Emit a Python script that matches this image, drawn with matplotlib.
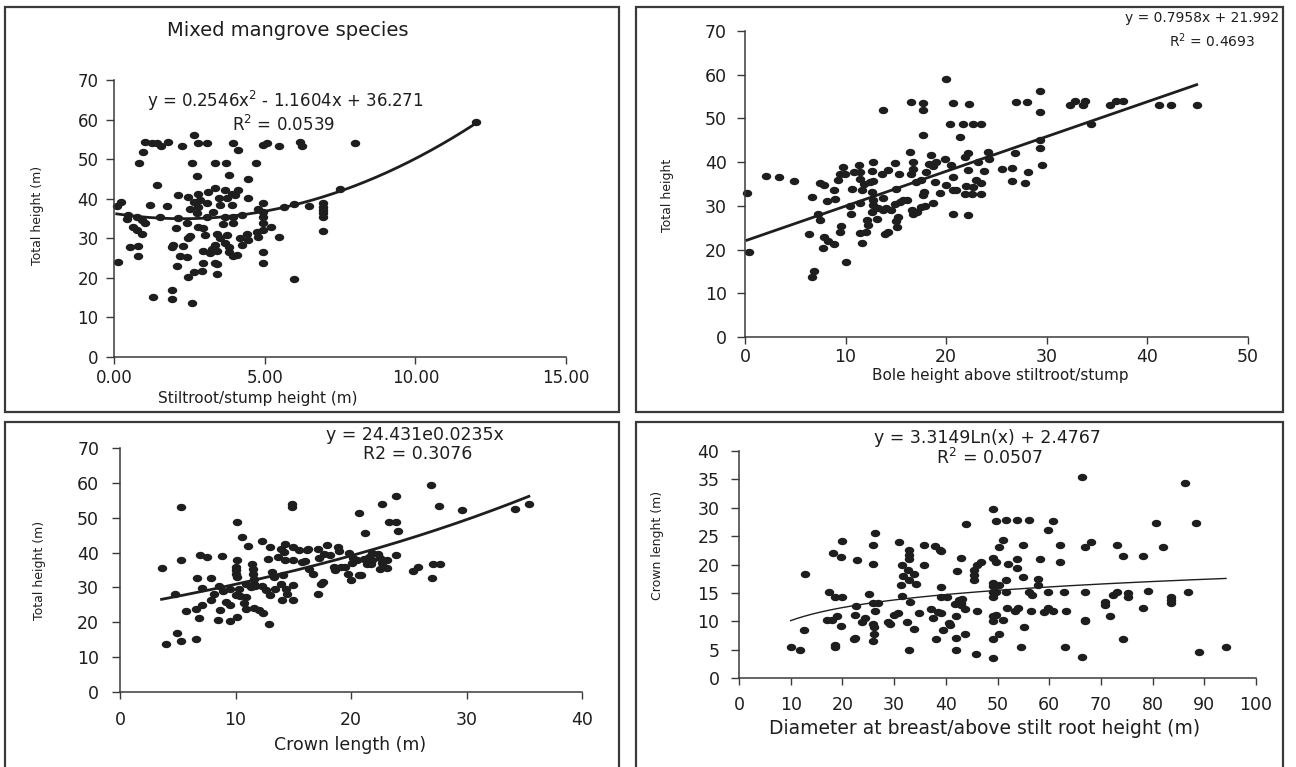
import numpy as np
import matplotlib
matplotlib.use("Agg")
import matplotlib.pyplot as plt
from matplotlib.path import Path
from matplotlib.patches import Rectangle
from matplotlib.transforms import Affine2D
from matplotlib.ticker import FormatStrFormatter

W, H = 1296, 767
plt.rcParams['font.family'] = ['DejaVu Sans']

# --- stiltroot/stump height vs total height (m) ---
stump_h = [1.03, 1.25, 1.42, 1.55, 1.80, 2.25, 2.64, 2.80, 3.08, 3.96, 4.13, 4.96, 5.07, 5.46,
           6.16, 6.23, 0.97, 0.84, 2.58, 3.36, 3.72, 4.72, 2.77, 3.83, 4.46, 1.42, 8.0, 12.0, 7.5,
           2.14, 2.47, 2.80, 3.13, 3.35, 3.69, 3.91, 4.13, 4.02, 4.46, 3.47, 3.74, 2.86, 3.08,
           2.64, 2.52, 2.80, 3.52, 3.91, 1.20, 1.77, 0.09, 0.22, 4.96, 4.79, 4.96, 5.96, 5.63,
           6.46, 6.95, 6.95, 6.95, 6.95, 6.95, 6.95,
           0.48, 0.42, 0.75, 0.92, 1.03, 0.64, 0.75, 0.92, 1.53, 2.14, 2.41, 2.74, 3.08, 3.30,
           3.69, 3.96, 4.24, 3.63, 3.96, 2.80, 2.97, 2.06, 4.96, 4.96, 4.96, 5.21, 4.41, 4.74,
           4.79, 5.46, 3.41, 3.74, 3.02, 2.52, 2.47, 3.52, 3.69, 4.19, 4.46, 4.24, 1.97, 2.30,
           1.92, 0.53, 0.81, 3.36, 3.24, 3.80, 2.97, 3.19, 3.41, 3.80, 3.96, 4.08, 4.96, 0.81,
           2.19, 2.41, 2.97, 3.36, 3.41, 2.08, 4.96, 0.14, 2.64, 2.91, 3.41, 2.47, 5.96, 1.92,
           1.28, 1.92, 2.58]
stump_total = [54.4, 54.1, 54.0, 53.3, 54.4, 53.3, 56.2, 54.1, 54.0, 54.1, 52.3, 53.7, 54.1, 53.3,
               54.4, 53.3, 51.9, 48.9, 48.9, 48.9, 48.9, 48.9, 45.8, 46.1, 44.9, 43.4, 54.0, 59.4, 42.4,
               40.9, 40.5, 41.3, 41.8, 42.6, 42.2, 41.3, 42.2, 40.9, 40.1, 40.1, 40.1, 39.6, 38.8,
               39.2, 37.5, 37.9, 38.4, 38.4, 38.4, 38.1, 38.1, 39.2, 38.8, 37.3, 36.7, 38.6, 37.8,
               38.1, 38.8, 38.0, 37.1, 36.3, 35.4, 31.9,
               35.9, 34.8, 35.4, 34.6, 33.8, 32.9, 32.1, 31.1, 35.4, 35.0, 33.8, 36.3, 35.4, 36.7,
               35.4, 35.4, 35.9, 33.6, 33.8, 32.9, 32.5, 32.5, 35.4, 33.9, 32.2, 32.9, 31.2, 31.6,
               30.4, 30.2, 31.2, 30.8, 30.8, 30.6, 30.0, 30.0, 28.9, 30.0, 29.5, 28.3, 28.3, 28.0,
               27.7, 27.9, 28.1, 28.3, 27.4, 27.9, 26.9, 26.3, 26.9, 26.6, 25.5, 25.8, 26.6, 25.5,
               25.5, 25.2, 23.8, 23.8, 23.5, 23.1, 23.8, 24.0, 21.4, 21.7, 21.1, 20.1, 19.6, 16.9,
               15.1, 14.6, 13.7]

# --- bole height above stiltroot/stump vs total height ---
bole_h = [0.2, 0.4, 2.1, 3.4, 4.9, 6.4, 6.7, 6.9, 6.7, 7.5, 7.9, 7.3, 7.5, 7.9, 7.8, 8.3, 8.8,
          8.2, 8.8, 8.9, 9.2, 9.4, 9.7, 9.9, 9.4, 9.5, 10.0, 10.4, 10.5, 10.6, 10.8, 11.3, 11.4,
          11.4, 11.6, 11.4, 11.4, 11.6, 12.0, 12.1, 12.2, 11.8, 12.4, 12.7, 12.6, 12.7, 12.7,
          12.6, 12.6, 12.7, 13.1, 13.2, 13.6, 13.7, 13.7, 13.7, 14.0, 13.9, 14.2, 14.2, 14.5,
          14.9, 14.9, 15.0, 15.0, 15.1, 15.2, 15.3, 15.4, 15.7, 16.1, 16.4, 16.5, 16.5, 16.7,
          16.7, 16.6, 16.7, 17.1, 17.0, 17.7, 17.7, 17.7, 17.5, 17.7, 17.8, 17.5, 17.9, 18.0,
          18.3, 18.5, 18.7, 18.7, 18.9, 19.0, 19.4, 20.0, 19.9, 20.0, 20.4, 20.7, 20.5, 20.7,
          20.7, 21.0, 20.7, 21.4, 21.7, 21.9, 21.9, 22.2, 22.3, 22.2, 22.2,
          22.7, 23.5, 23.2, 24.2, 24.3, 23.8, 23.0, 23.5, 22.0, 22.7, 22.6, 23.5, 25.5, 26.5,
          26.8, 26.5, 27.8, 28.1, 26.9, 28.0, 29.3, 29.3, 29.3, 29.3, 29.5, 32.3, 32.8, 33.6,
          33.8, 34.4, 36.3, 36.9, 37.6, 41.2, 42.3, 44.9]
bole_total = [33.0, 19.5, 36.8, 36.5, 35.6, 23.5, 32.0, 15.1, 13.7, 35.2, 34.7, 28.1, 26.7, 22.9,
              20.4, 22.0, 21.2, 31.0, 33.6, 31.5, 35.9, 37.4, 38.8, 37.4, 24.0, 25.3, 17.2, 29.9,
              28.2, 33.9, 37.8, 39.3, 37.8, 36.2, 33.6, 30.7, 23.8, 21.5, 24.0, 26.7, 25.6, 35.1,
              35.5, 35.7, 38.0, 40.0, 31.3, 33.2, 28.6, 30.1, 26.9, 29.6, 37.4, 52.0, 31.7, 29.0,
              29.4, 23.6, 24.0, 38.1, 29.1, 39.7, 30.4, 33.9, 26.5, 25.2, 27.5, 37.4, 30.9, 31.3,
              31.4, 42.3, 53.8, 37.4, 40.0, 38.5, 29.1, 28.1, 28.6, 35.5, 53.5, 51.9, 46.1, 35.9,
              32.4, 33.2, 29.7, 29.9, 37.8, 39.5, 41.6, 39.1, 30.7, 35.5, 40.0, 33.0, 59.1, 40.8,
              34.7, 48.8, 53.5, 39.3, 36.6, 33.7, 33.7, 28.2, 45.8, 48.8, 41.2, 32.8, 42.0, 53.4,
              38.3, 27.8,
              48.7, 48.7, 40.0, 42.3, 40.8, 38.0, 35.9, 35.2, 34.5, 34.3, 32.6, 32.6, 38.5, 38.7,
              42.0, 35.6, 35.2, 37.8, 53.8, 53.8, 56.3, 51.4, 45.0, 43.2, 39.3, 53.0, 54.0, 53.0,
              54.0, 48.7, 53.0, 54.0, 54.0, 53.0, 53.0, 53.0]

# --- crown length vs total height (m) ---
crown_len = [3.6, 4.0, 4.8, 4.9, 5.3, 5.3, 5.3, 5.7, 6.6, 6.6, 6.7, 6.8, 6.9, 7.1, 7.5, 7.1, 7.9,
             7.9, 8.1, 8.5, 8.6, 8.7, 8.8, 8.9, 9.2, 9.5, 9.5, 9.5, 10.1, 10.1, 10.1, 10.0, 10.0,
             10.0, 10.1, 10.0, 10.3, 10.4, 10.6, 10.7, 10.9, 10.9, 10.9, 11.1, 11.3, 11.4, 11.5,
             11.5, 11.6, 11.6, 11.6, 11.7, 12.0, 12.3, 12.3, 12.4, 12.6, 12.8, 12.9, 13.0, 13.0,
             13.2, 13.3, 13.4, 13.7, 13.9, 13.9, 14.0, 14.1, 14.2, 14.3, 14.3, 14.4, 14.5, 14.9,
             14.9, 15.0, 15.0, 15.0, 15.0, 15.5, 15.8, 16.0, 16.2, 16.3, 16.4, 16.7, 17.1, 17.1,
             17.2, 17.4, 17.6, 17.7, 17.9, 18.2, 18.5, 18.6, 18.9, 19.0, 19.1, 19.5, 19.7, 19.8,
             20.0, 20.1, 20.2, 20.5, 20.7, 20.7, 20.9, 21.1, 21.2, 21.4, 21.6,
             22.7, 23.9, 26.9, 27.6, 29.6, 34.2, 35.4, 23.3, 23.9, 24.1, 23.9, 21.8, 21.8, 22.3,
             22.5, 22.7, 23.1, 22.5, 23.1, 25.4, 25.8, 27.1, 27.7, 27.0, 21.7]
crown_total = [35.6, 13.7, 28.2, 16.9, 53.1, 37.8, 14.6, 23.2, 23.9, 15.1, 32.8, 21.2, 39.4, 29.9,
               38.7, 25.1, 32.8, 26.3, 28.0, 20.7, 30.3, 23.6, 38.9, 29.0, 25.8, 25.1, 29.6, 20.3,
               48.8, 21.5, 38.0, 35.9, 34.9, 33.9, 33.0, 27.7, 29.6, 27.4, 44.6, 25.5, 23.9, 27.2,
               31.1, 42.0, 30.1, 36.6, 35.4, 33.9, 32.5, 31.1, 24.2, 30.3, 23.6, 43.3, 30.3, 22.7,
               29.2, 38.2, 19.6, 41.6, 27.7, 34.4, 33.0, 29.6, 38.7, 41.1, 30.9, 26.5, 33.5, 40.2,
               38.0, 42.4, 29.6, 28.2, 54.0, 53.1, 41.6, 38.0, 30.6, 26.5, 40.8, 37.3, 37.7, 40.8,
               41.1, 35.4, 33.9, 41.1, 28.2, 38.5, 31.1, 31.5, 39.7, 42.1, 39.2, 35.9, 34.9, 41.6,
               40.4, 35.9, 36.0, 33.9, 39.9, 32.2, 37.0, 38.5, 37.8, 33.7, 51.3, 33.7, 38.2, 45.6,
               36.8, 38.7,
               53.8, 56.1, 59.3, 53.3, 52.1, 52.4, 53.8, 48.8, 48.8, 46.1, 39.2, 39.9, 38.0, 39.7,
               38.5, 37.0, 38.0, 35.4, 35.6, 34.7, 36.0, 36.6, 36.6, 32.7, 36.6]

# --- diameter at breast/above stilt root height vs crown length ---
diameter = [10.0, 11.8, 12.5, 12.8, 17.5, 17.1, 17.9, 18.2, 18.5, 18.6, 18.6, 19.0, 19.7, 19.7,
            19.9, 19.9, 22.2, 22.4, 22.4, 22.9, 22.7, 23.7, 24.4, 25.2, 25.9, 26.1, 26.1, 25.9,
            25.9, 26.0, 26.0, 26.3, 26.3, 26.9, 28.9, 29.2, 30.0, 30.8, 31.0, 31.3, 31.6, 31.6,
            31.8, 32.4, 32.6, 32.8, 32.8, 32.8, 32.8, 33.1, 32.8, 33.8, 33.8, 34.2, 34.9, 35.7,
            35.7, 37.1, 37.6, 37.9, 38.2, 38.4, 38.9, 39.0, 39.0, 39.0, 39.0, 39.5, 40.7, 40.9,
            40.3, 41.8, 41.9, 41.9, 41.9, 42.2, 42.6, 42.9, 42.9, 42.9, 43.1, 43.7, 43.7, 44.0,
            45.9, 45.4, 45.4, 45.4, 46.0, 46.0, 46.9,
            49.1, 49.1, 49.8, 51.6, 53.7, 56.0, 51.1, 50.2, 49.1, 49.8, 52.0, 53.7, 53.7, 54.9,
            54.9, 49.1, 49.1, 50.2, 51.6, 49.2, 49.8, 51.6, 49.1, 56.0, 56.6, 57.9, 57.9, 58.2,
            59.7, 60.8, 62.1, 62.1, 59.7, 62.9, 66.9, 68.0, 66.3, 66.9, 66.9, 66.9, 66.3, 51.8,
            53.4, 53.9, 56.4, 58.9, 59.7, 60.8, 63.2, 49.1, 49.8, 49.2, 51.1, 50.3, 49.2, 55.1,
            54.5, 63.1, 70.8, 70.8, 71.7, 72.3, 73.1, 73.1, 74.2, 74.2, 75.3, 75.3, 78.1, 78.1,
            79.2, 80.7, 82.1, 83.6, 83.6, 83.6, 86.2, 86.9, 88.4, 89.0, 94.2]
diam_crown = [5.4, 5.0, 8.5, 18.3, 15.2, 10.2, 10.2, 22.1, 14.2, 5.8, 5.5, 10.9, 9.1, 21.4, 24.2,
              14.3, 6.8, 7.1, 11.1, 20.8, 12.6, 9.8, 10.5, 14.8, 9.5, 8.9, 7.8, 6.6, 13.2, 20.1,
              23.4, 25.6, 11.8, 13.2, 9.9, 9.5, 11.1, 11.5, 24.0, 16.4, 19.9, 14.4, 17.9, 9.9,
              19.1, 22.5, 21.6, 20.9, 17.2, 13.4, 4.9, 18.4, 8.7, 16.6, 11.5, 23.4, 19.9, 12.1,
              10.6, 23.2, 6.8, 11.6, 22.6, 22.3, 16.1, 14.2, 11.4, 8.5, 9.7, 9.3, 14.2, 13.0,
              10.9, 4.9, 7.1, 18.9, 13.8, 21.1, 13.2, 12.8, 13.9, 12.1, 7.7, 27.1, 4.2, 17.2,
              18.1, 19.0, 11.8, 20.0, 20.4,
              3.6, 29.7, 27.7, 27.9, 27.8, 27.8, 24.4, 23.0, 21.2, 20.5, 20.1, 20.9, 19.3, 23.4,
              17.8, 16.8, 16.2, 16.4, 17.2, 15.2, 15.2, 15.2, 14.3, 15.2, 14.6, 17.5, 16.4, 20.9,
              26.1, 27.7, 23.4, 20.5, 15.2, 15.2, 23.0, 24.0, 35.5, 15.2, 10.3, 10.0, 3.7, 12.4,
              11.8, 12.4, 11.8, 11.6, 12.4, 11.8, 11.8, 10.9, 11.1, 10.1, 10.3, 7.8, 6.9, 8.9,
              5.4, 5.4, 13.4, 12.8, 10.9, 14.6, 15.2, 23.4, 21.5, 6.8, 15.0, 14.2, 21.5, 12.4,
              15.3, 27.3, 23.0, 14.3, 13.8, 13.2, 34.3, 15.2, 27.3, 4.6, 5.4]

# trendline coefficients as printed on each panel
quad_coef = [0.2546, -1.1604, 36.271]
lin_slope, lin_icept = 0.7958, 21.992
exp_a, exp_b = 24.431, 0.0235
log_a, log_b = 3.3149, 2.4767

ink = '#1e1e1e'
frame = '#3a3a3a'
# slightly flattened dot, like the exported spreadsheet markers
dot = Path.unit_circle().transformed(Affine2D().scale(1.35, 1.0))

fig = plt.figure(figsize=(W / 100, H / 100), dpi=100)


def px_axes(left, top, right, bottom):
    return fig.add_axes([left / W, 1 - bottom / H, (right - left) / W, (bottom - top) / H])


def px_text(x, y, s, **kw):
    kw.setdefault('ha', 'center')
    kw.setdefault('va', 'center')
    kw.setdefault('color', ink)
    return fig.text(x / W, 1 - y / H, s, **kw)


def style(ax, xlim, ylim, xstep, ystep, xpad, ypad, size=12):
    ax.set_xlim(*xlim)
    ax.set_ylim(*ylim)
    ax.set_xticks(np.arange(xlim[0], xlim[1] + xstep / 2, xstep))
    ax.set_yticks(np.arange(ylim[0], ylim[1] + ystep / 2, ystep))
    for s in ('top', 'right'):
        ax.spines[s].set_visible(False)
    for s in ('left', 'bottom'):
        ax.spines[s].set_color(frame)
        ax.spines[s].set_linewidth(1.1)
    ax.tick_params(axis='x', direction='out', length=5, width=1, color=frame,
                   labelsize=size, pad=xpad, labelcolor=ink)
    ax.tick_params(axis='y', direction='out', length=6, width=1, color=frame,
                   labelsize=size, pad=ypad, labelcolor=ink)
    ax.patch.set_alpha(0)


def scatter(ax, x, y):
    ax.plot(x, y, linestyle='none', marker=dot, markersize=5.8, color=ink, clip_on=False)


# panel frames
for l, t, r, b in [(5, 7, 619, 412), (636, 7, 1283, 412), (5, 422, 619, 770), (636, 422, 1283, 770)]:
    fig.patches.append(Rectangle((l / W, 1 - b / H), (r - l) / W, (b - t) / H,
                                 transform=fig.transFigure, fill=False,
                                 edgecolor=frame, linewidth=1.6))

# top left: polynomial fit
ax1 = px_axes(114, 80, 566, 357)
style(ax1, (0, 15), (0, 70), 5, 10, xpad=4, ypad=5)
ax1.xaxis.set_major_formatter(FormatStrFormatter('%.2f'))
scatter(ax1, stump_h, stump_total)
xs = np.linspace(min(stump_h), max(stump_h), 200)
ax1.plot(xs, np.polyval(quad_coef, xs), color=ink, linewidth=2)
px_text(288, 30, 'Mixed mangrove species', fontsize=14)
px_text(285, 101, 'y = 0.2546x$^2$ - 1.1604x + 36.271', fontsize=12)
px_text(284, 125, 'R$^2$ = 0.0539', fontsize=12)
px_text(258, 398, 'Stiltroot/stump height (m)', fontsize=11)
px_text(37, 215, 'Total height (m)', fontsize=9, rotation=90)

# top right: linear fit
ax2 = px_axes(745, 31, 1248, 337)
style(ax2, (0, 50), (0, 70), 10, 10, xpad=3, ypad=7, size=12.5)
scatter(ax2, bole_h, bole_total)
xs = np.linspace(min(bole_h), max(bole_h), 50)
ax2.plot(xs, lin_slope * xs + lin_icept, color=ink, linewidth=2)
px_text(1279, 18, 'y = 0.7958x + 21.992', fontsize=10, ha='right')
px_text(1212, 41, 'R$^2$ = 0.4693', fontsize=10)
px_text(1000, 375, 'Bole height above stiltroot/stump', fontsize=11)
px_text(667, 195, 'Total height', fontsize=9, rotation=90)

# bottom left: exponential fit
ax3 = px_axes(120, 448, 582, 692)
style(ax3, (0, 40), (0, 70), 10, 10, xpad=9, ypad=9, size=12.5)
scatter(ax3, crown_len, crown_total)
xs = np.linspace(min(crown_len), max(crown_len), 200)
ax3.plot(xs, exp_a * np.exp(exp_b * xs), color=ink, linewidth=2)
px_text(415, 435, 'y = 24.431e0.0235x', fontsize=12.5)
px_text(418, 454, 'R2 = 0.3076', fontsize=12.5)
px_text(350, 745, 'Crown length (m)', fontsize=12.5)
px_text(40, 570, 'Total height (m)', fontsize=9, rotation=90)

# bottom right: logarithmic fit
ax4 = px_axes(739, 451, 1256, 678)
style(ax4, (0, 100), (0, 40), 10, 5, xpad=8, ypad=8, size=12.5)
scatter(ax4, diameter, diam_crown)
xs = np.linspace(min(diameter), max(diameter), 200)
ax4.plot(xs, log_a * np.log(xs) + log_b, color=ink, linewidth=1)
px_text(987, 438, 'y = 3.3149Ln(x) + 2.4767', fontsize=12.5)
px_text(990, 458, 'R$^2$ = 0.0507', fontsize=12.5)
px_text(985, 728, 'Diameter at breast/above stilt root height (m)', fontsize=13.5)
px_text(657, 545, 'Crown lenght (m)', fontsize=9, rotation=90)

fig.savefig('out.png', dpi=100)
